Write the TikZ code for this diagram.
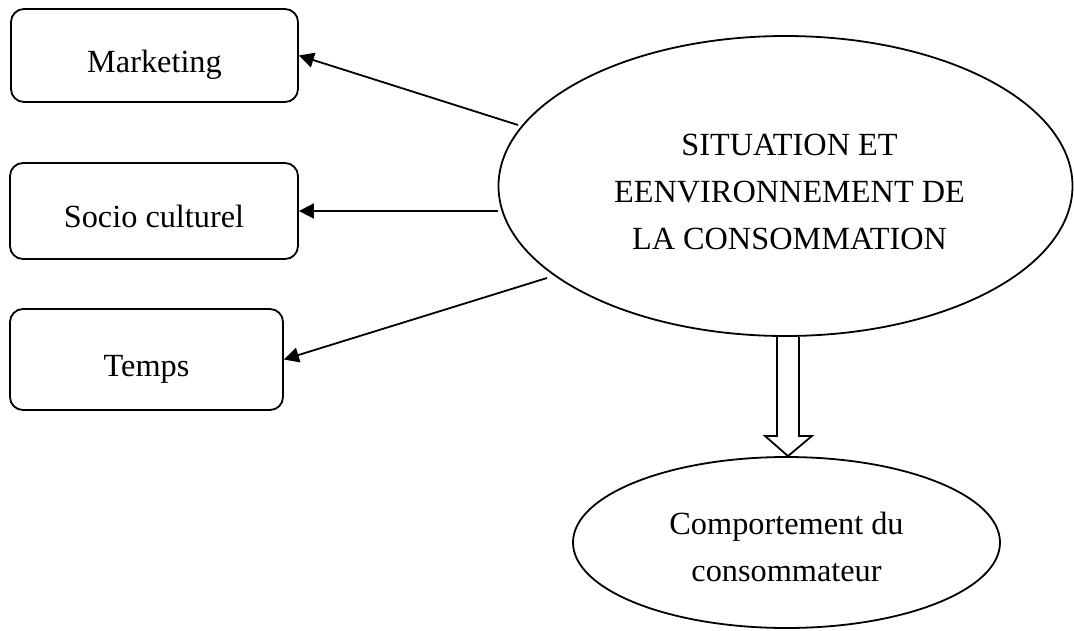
\documentclass[tikz,border=0pt]{standalone}
\usepackage{fontspec}
\setmainfont{Liberation Serif}
\usetikzlibrary{shapes.geometric,arrows.meta,calc}

\tikzset{
  factor/.style={draw, line width=1.8pt, rounded corners=13pt, inner sep=0pt,
                 text height=33pt, text depth=0pt},
  bubble/.style={draw, ellipse, line width=1.8pt, inner sep=0pt, align=center},
  link/.style={line width=1.8pt, -{Triangle[length=15pt,width=15pt]}},
  bigarrow/.style={line width=1.8pt, line join=miter},
  lbl/.style={font=\fontsize{32.3}{47}\selectfont, align=center}
}

\begin{document}
\begin{tikzpicture}[x=1pt, y=-1pt]
  \useasboundingbox (0,0) rectangle (1074,630);

  % external factors
  \node[factor, lbl, minimum width=287pt, minimum height=93pt]  (mkt) at (154.5,55.5) {Marketing};
  \node[factor, lbl, minimum width=288pt, minimum height=96pt]  (soc) at (154,211) {Socio culturel};
  \node[factor, lbl, minimum width=273pt, minimum height=101pt] (tps) at (146.5,359.5) {Temps};

  % situation and consumer behaviour
  \node[bubble, minimum width=574pt, minimum height=300pt] (sit) at (785.5,186) {};
  \node[lbl] (sittext) at ($(sit.center)+(4,6)$)
    {SITUATION ET\\EENVIRONNEMENT DE\\LA CONSOMMATION};
  \node[bubble, minimum width=427pt, minimum height=171pt] (cmp) at (786.5,542.5) {};
  \node[lbl] (cmptext) at ($(cmp.center)+(0,4)$) {Comportement du\\consommateur};

  % influence arrows
  \coordinate (m0) at (518,125);
  \coordinate (s0) at (498,211);
  \coordinate (t0) at (547,278);
  \draw[link] (m0) -- (mkt.east);
  \draw[link] (s0) -- (soc.east);
  \draw[link] (t0) -- (tps.east);

  % hollow arrow from situation to behaviour
  \coordinate (tip) at ($(cmp.north)+(1.5,0)$);
  \draw[bigarrow]
    ($(sit.south)+(-8.5,0)$) -- ($(sit.south)+(-8.5,99)$) -- ($(sit.south)+(-20.5,99)$)
    -- (tip)
    -- ($(sit.south)+(26.5,99)$) -- ($(sit.south)+(13.5,99)$) -- ($(sit.south)+(13.5,0)$);
\end{tikzpicture}
\end{document}
